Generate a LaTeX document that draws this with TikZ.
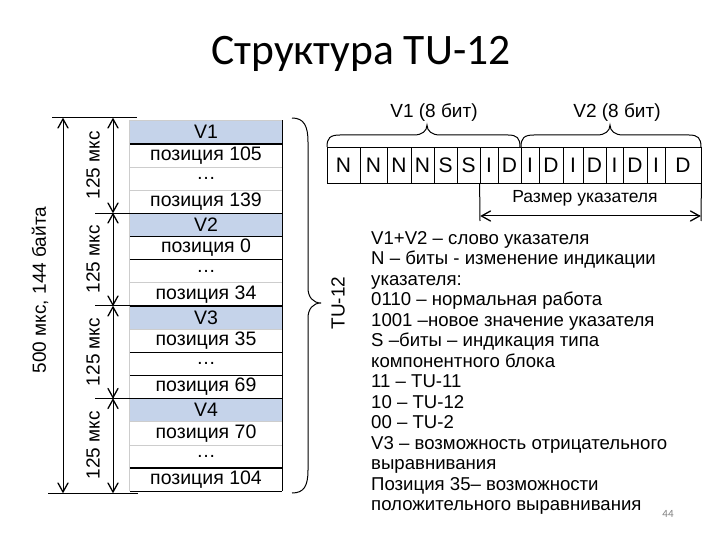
\documentclass[tikz,border=0pt]{standalone}
\usepackage{fontspec}
\setmainfont{Liberation Sans}
\newfontfamily\titlefont{Carlito}
\definecolor{vblue}{RGB}{197,211,234}
\definecolor{lgray}{RGB}{205,205,205}
\begin{document}
\begin{tikzpicture}[x=1pt,y=-1pt,
  rowbox/.style={minimum width=152pt, minimum height=23.16pt, inner sep=0pt, font=\fontsize{19.5}{22}\selectfont},
  blk/.style={line width=1.3pt, black},
  lite/.style={line width=0.8pt, lgray},
  ln/.style={line width=1pt},
  hd/.style={line width=1.3pt, black, line cap=round},
  lbl/.style={font=\fontsize{19}{22}\selectfont, inner sep=0pt},
  bit/.style={draw, line width=0.8pt, minimum height=36pt, inner sep=0pt, font=\fontsize{21}{24}\selectfont},
  txt/.style={anchor=base west, inner sep=0pt, font=\fontsize{18.6}{20.5}\selectfont}
]
\useasboundingbox (0,0) rectangle (720,540);
\fill[white] (0,0) rectangle (720,540);

% title
\node[anchor=base, inner sep=0pt, font=\titlefont\fontsize{43.5}{44}\selectfont] (title) at (361,65) {Структура TU-12};

% table rows
\foreach \i/\t in {0/V1,1/позиция 105,2/…,3/позиция 139,4/V2,5/позиция 0,6/…,7/позиция 34,8/V3,9/позиция 35,10/…,11/позиция 69,12/V4,13/позиция 70,14/…,15/позиция 104}{
  \node[rowbox] (r\i) at (206,{120.5+\i*23.16+11.58}) {\t};
}
\foreach \i in {0,4,8,12}{
  \fill[vblue] (r\i.north west) rectangle (r\i.south east);
}
\foreach \i/\t in {0/V1,4/V2,8/V3,12/V4}{
  \node[rowbox] at (r\i.center) {\t};
}
\draw[lite] (r0.north west) -- (r0.north east);
\draw[lite] (r0.north west) -- (r15.south west);
\foreach \i in {1,2,6,8,12,13}{
  \draw[lite] (r\i.south west) -- (r\i.south east);
}
\foreach \i in {0,3,4,5,7,9,10,11,14,15}{
  \draw[blk] (r\i.south west) -- (r\i.south east);
}
\draw[blk] (r0.north east) -- (r15.south east);

% dimension lines on the left
\coordinate (tL) at (52,118); \coordinate (tR) at (137,118);
\coordinate (bL) at (48,493); \coordinate (bR) at (138,493);
\draw[ln] (tL) -- (tR);
\draw[ln] (bL) -- (bR);
\node[lbl, rotate=90] (big) at (40,290) {500 мкс, 144 байта};
\foreach \k/\y in {1/213.1,2/305.8,3/398.4}{
  \coordinate (k\k L) at (95,\y); \coordinate (k\k R) at (137,\y);
  \draw[ln] (k\k L) -- (k\k R);
}
\coordinate (da1) at (63,119); \coordinate (db1) at (63,492);
\coordinate (da2) at (113,119); \coordinate (db2) at (113,212);
\coordinate (da3) at (113,214); \coordinate (db3) at (113,305);
\coordinate (da4) at (113,307); \coordinate (db4) at (113,397.5);
\coordinate (da5) at (113,399.5); \coordinate (db5) at (113,492);
\foreach \n in {1,...,5}{
  \draw[ln] (da\n) -- (db\n);
  \draw[hd] ([xshift=-5pt,yshift=-9pt]da\n) -- (da\n) -- ([xshift=5pt,yshift=-9pt]da\n);
  \draw[hd] ([xshift=-5pt,yshift=9pt]db\n) -- (db\n) -- ([xshift=5pt,yshift=9pt]db\n);
}
\node[lbl, rotate=90] (m1) at (93,165.5) {125 мкс};
\node[lbl, rotate=90] (m2) at (93,259.5) {125 мкс};
\node[lbl, rotate=90] (m3) at (93,352) {125 мкс};
\node[lbl, rotate=90] (m4) at (93,445.5) {125 мкс};

% right brace of table
\coordinate (brT) at (292,118); \coordinate (brM) at (321,303); \coordinate (brB) at (292,493);
\draw[ln] (brT) .. controls (304,118) and (308,126) .. (308,142) -- (308,288)
  .. controls (308,297) and (313,303) .. (brM)
  .. controls (313,303) and (308,309) .. (308,318) -- (308,470)
  .. controls (308,486) and (304,493) .. (brB);
\node[lbl, rotate=90] (tu) at (338,303) {TU-12};

% bit boxes
\foreach \a/\b/\l [count=\n] in {327/360/N,360/387/N,387/411/N,411/434/N,434/457/S,457/480/S,480/498/I,498/521/D,521/539/I,539/563/D,563/583/I,583/606/D,606/623/I,623/647/D,647/665/I,665/701/D}{
  \node[bit, minimum width={(\b-\a)*1pt}] (b\n) at ({(\a+\b)/2},165) {\l};
}
% top braces
\coordinate (v1L) at (327,147); \coordinate (v1M) at (427,125); \coordinate (v1R) at (520,147);
\draw[ln] (v1L) .. controls (327,138) and (330,135) .. (340,135) -- (414,135)
  .. controls (422,135) and (427,131) .. (v1M)
  .. controls (427,131) and (432,135) .. (440,135) -- (508,135)
  .. controls (517,135) and (520,138) .. (v1R);
\coordinate (v2L) at (521,147); \coordinate (v2M) at (610,125); \coordinate (v2R) at (701,147);
\draw[ln] (v2L) .. controls (521,138) and (524,135) .. (534,135) -- (597,135)
  .. controls (605,135) and (610,131) .. (v2M)
  .. controls (610,131) and (615,135) .. (623,135) -- (689,135)
  .. controls (698,135) and (701,138) .. (v2R);
\node[lbl] (v1lab) at (434,113) {V1 (8 бит)};
\node[lbl] (v2lab) at (617,113) {V2 (8 бит)};

% pointer size
\coordinate (pL) at (480,221); \coordinate (pR) at (701,221);
\draw[ln] (b7.south west) -- (pL);
\draw[ln] (b16.south east) -- (pR);
\coordinate (aL) at (481.5,216); \coordinate (aR) at (699.5,216);
\draw[ln] (aL) -- (aR);
\draw[hd] ([xshift=9pt,yshift=5pt]aL) -- (aL) -- ([xshift=9pt,yshift=-5pt]aL);
\draw[hd] ([xshift=-9pt,yshift=5pt]aR) -- (aR) -- ([xshift=-9pt,yshift=-5pt]aR);
\node[inner sep=0pt, font=\fontsize{17.5}{20}\selectfont] (plab) at (585,198) {Размер указателя};

% explanation text
\foreach \t [count=\n from 0] in {V1+V2 – слово указателя,N – биты - изменение индикации,указателя:,0110 – нормальная работа,1001 –новое значение указателя,S –биты – индикация типа,компонентного блока,11 – TU-11,10 – TU-12,00 – TU-2,V3 – возможность отрицательного,выравнивания,Позиция 35– возможности,положительного выравнивания}{
  \node[txt] (t\n) at (371,{244+\n*20.5}) {\t};
}

\node[inner sep=0pt, text=gray, font=\titlefont\fontsize{11}{11}\selectfont] (pg) at (668,514) {44};
\end{tikzpicture}
\end{document}
